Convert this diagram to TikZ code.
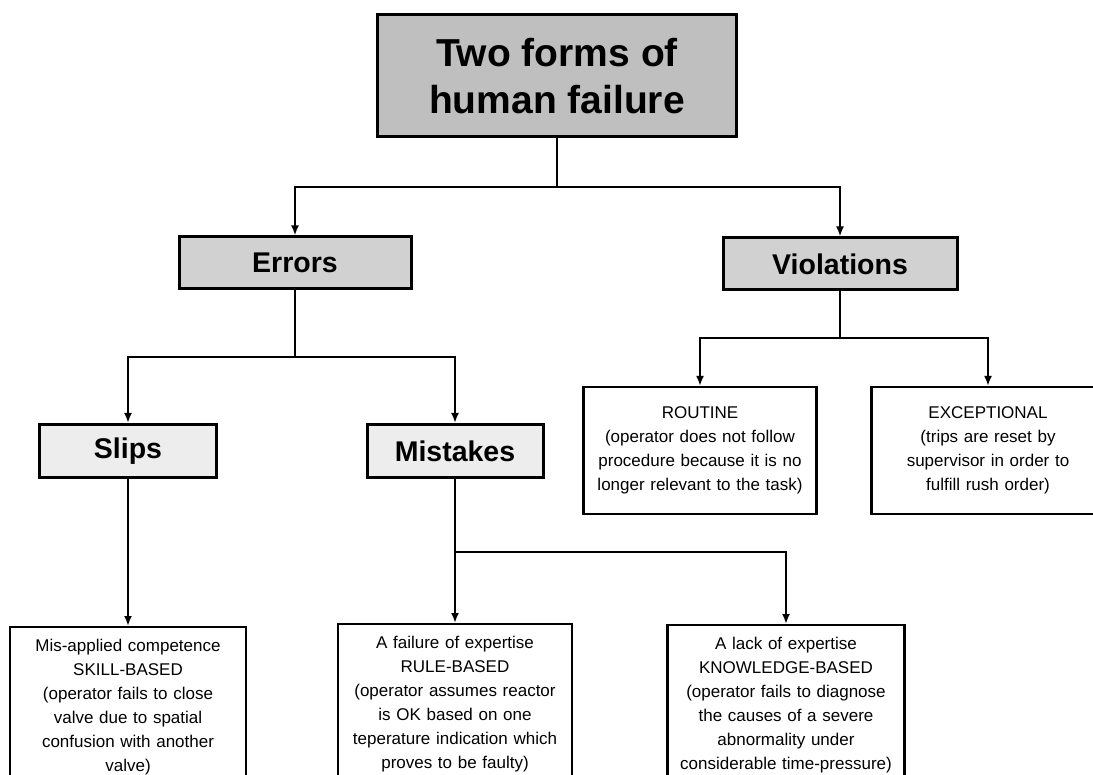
\documentclass[tikz,border=0pt]{standalone}
\usepackage{fontspec}
\setmainfont{Liberation Sans}
\usetikzlibrary{arrows.meta}

\tikzset{
    >={Latex[length=10pt,width=8pt]},
    topbox/.style={draw, line width=3pt, fill=black!25, inner sep=0pt,
        minimum width=359pt, minimum height=122pt, align=center,
        font=\fontsize{39}{47}\selectfont\bfseries},
    formbox/.style={draw, line width=3pt, fill=black!18, inner sep=0pt,
        minimum height=52pt, font=\fontsize{28.5}{32}\selectfont\bfseries},
    kindbox/.style={draw, line width=3pt, fill=black!7, inner sep=0pt,
        minimum height=53pt, font=\fontsize{28.5}{32}\selectfont\bfseries},
    notebox/.style={draw, line width=2.2pt, align=center, inner xsep=0pt,
        inner ysep=12pt, font=\fontsize{17}{24}\selectfont},
    link/.style={line width=2.2pt},
}

\begin{document}
\begin{tikzpicture}[x=1pt, y=-1pt]
    \useasboundingbox (0,0) rectangle (1093,775);
    \clip (0,0) rectangle (1093,775);

    \node[topbox] (failure) at (557,76) {Two forms of\\human failure};

    \node[formbox, minimum width=232pt] (errors) at (295,263) {Errors};
    \node[formbox, minimum width=234pt] (violations) at (840,264) {Violations};

    \node[kindbox, minimum width=177pt] (slips) at (128,451) {Slips};
    \node[kindbox, minimum width=176pt] (mistakes) at (455,451) {Mistakes};

    \node[notebox, text width=233pt, minimum height=127pt] (routine) at (700,450.5)
        {ROUTINE\\(operator does not follow\\procedure because it is no\\longer relevant to the task)};
    % right edge runs off the page
    \node[notebox, text width=233pt, minimum height=127pt] (exceptional) at (988,450.5)
        {EXCEPTIONAL\\(trips are reset by\\supervisor in order to\\fulfill rush order)};

    % bottom row is cut off at the foot of the page
    \node[notebox, text width=236pt, anchor=north] (skill) at (128,626)
        {Mis-applied competence\\SKILL-BASED\\(operator fails to close\\valve due to spatial\\confusion with another\\valve)};
    \node[notebox, text width=234pt, anchor=north] (rule) at (455,623)
        {A failure of expertise\\RULE-BASED\\(operator assumes reactor\\is OK based on one\\teperature indication which\\proves to be faulty)};
    \node[notebox, text width=237pt, anchor=north] (knowledge) at (786,624)
        {A lack of expertise\\KNOWLEDGE-BASED\\(operator fails to diagnose\\the causes of a severe\\abnormality under\\considerable time-pressure)};

    \coordinate (splitA) at (557,187);
    \coordinate (splitB) at (295,357);
    \coordinate (splitC) at (840,338);
    \coordinate (splitD) at (455,552);

    \draw[link] (failure.south) -- (splitA);
    \draw[link, ->] (splitA) -| (errors.north);
    \draw[link, ->] (splitA) -| (violations.north);

    \draw[link] (errors.south) -- (splitB);
    \draw[link, ->] (splitB) -| (slips.north);
    \draw[link, ->] (splitB) -| (mistakes.north);

    \draw[link] (violations.south) -- (splitC);
    \draw[link, ->] (splitC) -| (routine.north);
    \draw[link, ->] (splitC) -| (exceptional.north);

    \draw[link, ->] (slips.south) -- (skill.north);
    \draw[link] (mistakes.south) -- (splitD);
    \draw[link, ->] (splitD) -- (rule.north);
    \draw[link, ->] (splitD) -| (knowledge.north);
\end{tikzpicture}
\end{document}
